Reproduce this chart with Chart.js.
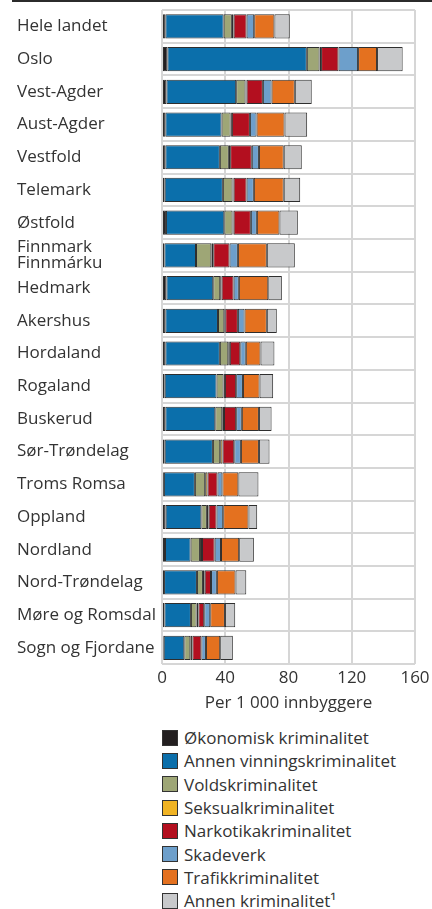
<!DOCTYPE html>
<html>
<head>
<meta charset="utf-8">
<script src="https://cdn.jsdelivr.net/npm/chart.js@4"></script>
<style>
  body { margin: 0; background: #fff; font-family: "Open Sans", sans-serif; overflow: hidden; }
  #rule { position: absolute; top: 0; left: 12px; width: 420px; height: 2px; background: #2b2b2b; }
  #wrap { position: absolute; top: 2px; left: 0; width: 432px; height: 713px; }
  #legend { position: absolute; top: 726px; left: 162px; }
  .item { display: flex; align-items: center; height: 23.3px; font-size: 17px; color: #333; }
  .box { width: 16px; height: 16px; border: 1px solid #333; margin-right: 6px; box-sizing: border-box; }
</style>
</head>
<body>
<div id="rule"></div>
<div id="wrap"><canvas id="myChart"></canvas></div>
<div id="legend"></div>
<script>
// setup
const regions = ['Hele landet', 'Oslo', 'Vest-Agder', 'Aust-Agder', 'Vestfold', 'Telemark', 'Østfold',
  ['Finnmark', 'Finnmárku'], 'Hedmark', 'Akershus', 'Hordaland', 'Rogaland', 'Buskerud', 'Sør-Trøndelag',
  'Troms Romsa', 'Oppland', 'Nordland', 'Nord-Trøndelag', 'Møre og Romsdal', 'Sogn og Fjordane'];

const okonomisk   = [2.1, 3.4, 2.8, 2.1, 2.1, 1.7, 2.5, 1.5, 2.8, 2.1, 2.1, 1.7, 2.1, 1.7, 1.2, 2.3, 1.9, 1.3, 1.5, 1.1];
const vinning     = [36.9, 88.2, 44.1, 35.6, 34.5, 36.8, 36.9, 20.0, 29.6, 33.3, 34.5, 32.8, 31.6, 30.5, 19.6, 22.6, 16.2, 20.8, 16.8, 13.0];
const vold        = [5.2, 8.0, 5.9, 5.7, 5.7, 6.1, 5.2, 9.7, 4.4, 4.0, 5.3, 4.4, 4.4, 4.6, 6.5, 3.5, 5.9, 3.8, 3.6, 3.8];
const seksual     = [1.1, 1.0, 0.7, 0.8, 0.8, 0.7, 0.7, 1.2, 0.9, 0.6, 1.0, 0.9, 1.1, 1.5, 1.5, 1.1, 1.3, 1.1, 1.1, 1.3];
const narkotika   = [8.2, 11.0, 10.3, 11.4, 13.7, 8.2, 10.9, 10.3, 7.6, 8.0, 6.6, 7.1, 7.7, 7.4, 6.3, 5.0, 8.0, 4.0, 3.7, 5.7];
const skadeverk   = [4.8, 12.4, 5.5, 4.2, 4.5, 4.6, 3.8, 5.3, 3.3, 4.2, 3.5, 4.3, 3.6, 4.2, 3.1, 4.2, 4.0, 3.7, 3.8, 2.9];
const trafikk     = [12.8, 12.0, 14.7, 17.7, 15.7, 18.9, 14.3, 18.3, 18.6, 14.1, 9.3, 10.5, 10.8, 11.4, 10.1, 16.0, 11.5, 11.8, 9.3, 9.0];
const annen       = [9.7, 16.2, 10.7, 14.3, 11.4, 10.4, 11.6, 17.7, 8.6, 6.3, 8.8, 8.6, 8.0, 6.7, 12.7, 5.5, 9.3, 6.8, 6.5, 8.0];

const xTicks = [0, 40, 80, 120, 160];

const series = [
  { label: 'Økonomisk kriminalitet', data: okonomisk, color: '#231f20' },
  { label: 'Annen vinningskriminalitet', data: vinning, color: '#0b6fab' },
  { label: 'Voldskriminalitet', data: vold, color: '#9ea676' },
  { label: 'Seksualkriminalitet', data: seksual, color: '#f0b323' },
  { label: 'Narkotikakriminalitet', data: narkotika, color: '#b30f1f' },
  { label: 'Skadeverk', data: skadeverk, color: '#6d9fcb' },
  { label: 'Trafikkriminalitet', data: trafikk, color: '#e4711f' },
  { label: 'Annen kriminalitet\u00b9', data: annen, color: '#c8c9cb' }
];

const data = {
  labels: regions,
  datasets: series.map(s => ({
    label: s.label,
    data: s.data,
    backgroundColor: s.color,
    borderColor: '#2e2e2e',
    borderWidth: 1,
    borderSkipped: false,
    barPercentage: 0.74,
    categoryPercentage: 1
  }))
};

// config
const config = {
  type: 'bar',
  data,
  options: {
    indexAxis: 'y',
    responsive: true,
    maintainAspectRatio: false,
    animation: false,
    layout: { padding: { top: 8, left: 17, right: 17, bottom: 2 } },
    plugins: { legend: { display: false }, tooltip: { enabled: false } },
    scales: {
      x: {
        stacked: true,
        min: 0,
        max: 160,
        afterBuildTicks: s => { s.ticks = xTicks.map(v => ({ value: v })); },
        // keep the plot edge at 160 fixed, the last tick label may hang over
        afterFit: s => { s.paddingRight = 0; s.paddingLeft = 0; },
        grid: { color: '#d6d6d6', lineWidth: 2, drawTicks: false },
        border: { display: false },
        ticks: { color: '#333', padding: 4, font: { family: 'Open Sans', size: 17 } },
        title: { display: true, text: 'Per 1 000 innbyggere', color: '#333',
          padding: { top: 0, bottom: 0 }, font: { family: 'Open Sans', size: 17 } }
      },
      y: {
        stacked: true,
        afterFit: s => { s.width = 145; },
        grid: { color: '#d6d6d6', lineWidth: 2, drawTicks: false, offset: true },
        border: { display: false },
        ticks: { color: '#333', crossAlign: 'far', padding: 0, autoSkip: false,
          font: { family: 'Open Sans', size: 17, lineHeight: 0.95 } }
      }
    }
  }
};

// render init block
const myChart = new Chart(document.getElementById('myChart'), config);

// legend, one item per row
const legend = document.getElementById('legend');
myChart.data.datasets.forEach(ds => {
  const row = document.createElement('div');
  row.className = 'item';
  const box = document.createElement('span');
  box.className = 'box';
  box.style.background = ds.backgroundColor;
  const txt = document.createElement('span');
  txt.textContent = ds.label;
  row.appendChild(box);
  row.appendChild(txt);
  legend.appendChild(row);
});
</script>
</body>
</html>
